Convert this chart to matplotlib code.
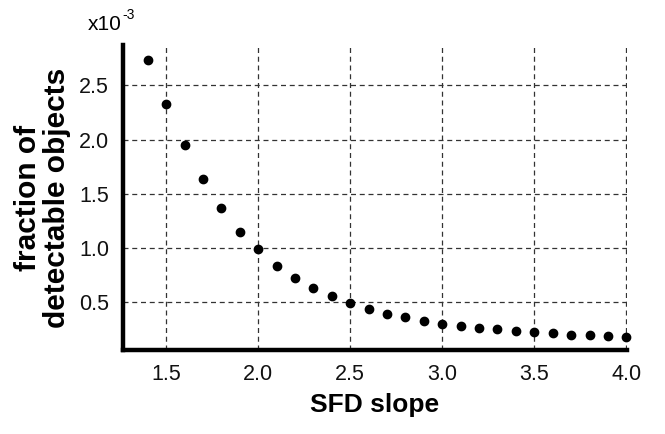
import matplotlib
matplotlib.use("Agg")
import matplotlib.pyplot as plt

plt.rcParams['font.family'] = ['Liberation Sans', 'DejaVu Sans']

# SFD slope vs. fraction of detectable objects (values in units of 1e-3)
sfd_slope = [1.4, 1.5, 1.6, 1.7, 1.8, 1.9, 2.0, 2.1, 2.2, 2.3, 2.4, 2.5, 2.6, 2.7,
             2.8, 2.9, 3.0, 3.1, 3.2, 3.3, 3.4, 3.5, 3.6, 3.7, 3.8, 3.9, 4.0]
fraction_e3 = [2.734, 2.324, 1.947, 1.635, 1.370, 1.148, 0.991, 0.830, 0.719, 0.629,
               0.555, 0.491, 0.429, 0.389, 0.356, 0.322, 0.297, 0.279, 0.260, 0.248,
               0.230, 0.224, 0.212, 0.193, 0.190, 0.184, 0.175]
x_ticks = [1.5, 2.0, 2.5, 3.0, 3.5, 4.0]
y_ticks = [0.5, 1.0, 1.5, 2.0, 2.5]

fig = plt.figure(figsize=(6.65, 4.34), dpi=100)
ax = fig.add_axes([0.185, 0.1935, 0.758, 0.7025])

ax.plot(sfd_slope, fraction_e3, 'o', color='black', markersize=6, zorder=3, clip_on=False)

ax.set_xlim(1.266, 4.004)
ax.set_ylim(0.053, 2.873)
ax.set_xticks(x_ticks)
ax.set_xticklabels([f"{v:.1f}" for v in x_ticks])
ax.set_yticks(y_ticks)
ax.set_yticklabels([f"{v:.1f}" for v in y_ticks])
ax.tick_params(length=0, labelsize=15.5, pad=10, colors='#111111')

ax.grid(True, linestyle=(0, (4, 3)), color='#333333', linewidth=0.9)
ax.set_axisbelow(True)

for side in ('top', 'right'):
    ax.spines[side].set_visible(False)
for side in ('left', 'bottom'):
    ax.spines[side].set_linewidth(3.2)
    ax.spines[side].set_capstyle('projecting')

ax.set_xlabel('SFD slope', fontsize=19, fontweight='bold', labelpad=6)
ax.set_ylabel('fraction of\ndetectable objects', fontsize=21.5, fontweight='bold',
              labelpad=6, linespacing=1.05)

# exponent marker for the y axis
fig.text(88 / 665, 1 - 30 / 434, 'x10', fontsize=15, ha='left', va='baseline')
fig.text(122 / 665, 1 - 19 / 434, '-3', fontsize=10, ha='left', va='baseline')

fig.savefig('out.png', dpi=100)
